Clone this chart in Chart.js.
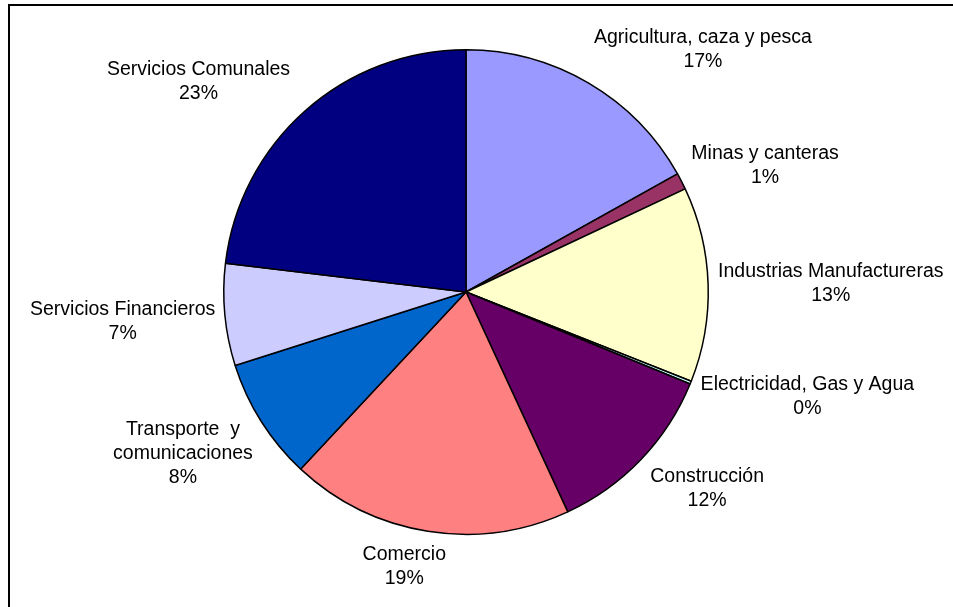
<!DOCTYPE html>
<html>
<head>
<meta charset="utf-8">
<script src="https://cdn.jsdelivr.net/npm/chart.js@4.4.1/dist/chart.umd.min.js"></script>
<style>
    html, body { margin: 0; padding: 0; background: #fff; }
    #wrap { width: 953px; height: 607px; position: relative; }
</style>
</head>
<body>
<div id="wrap"><canvas id="myChart"></canvas></div>
<script>
// sectors, clockwise from 12 o'clock
var categories = ['Agricultura, caza y pesca', 'Minas y canteras', 'Industrias Manufactureras',
    'Electricidad, Gas y Agua', 'Construcción', 'Comercio', 'Transporte  y\ncomunicaciones',
    'Servicios Financieros', 'Servicios Comunales'];
var shares = [16.9, 1.1, 13.0, 0.2, 11.9, 18.85, 8.15, 6.8, 23.1];
var colors = ['#9999FF', '#993366', '#FFFFCC', '#CCFFFF', '#660066', '#FF8080', '#0066CC', '#CCCCFF', '#000080'];

// label placement tweaks (px), same order as categories
var labelNudge = [[50, 0], [2, 2], [-8, 0], [1, -1], [12, 2], [-14, -4], [-4, 4], [8, 3], [-34, 0]];
var labelGap = 18;
var lineH = 24;

var outsideLabels = {
    id: 'outsideLabels',
    beforeDraw: function (chart) {
        var ctx = chart.ctx;
        ctx.save();
        ctx.strokeStyle = '#000';
        ctx.lineWidth = 2;
        ctx.strokeRect(9, 5, 2000, 2000);
        ctx.restore();
    },
    afterDatasetsDraw: function (chart) {
        var ctx = chart.ctx;
        var meta = chart.getDatasetMeta(0);
        var total = shares.reduce(function (a, b) { return a + b; }, 0);
        ctx.save();
        ctx.font = '19.5px "Liberation Sans", Arial, sans-serif';
        ctx.fillStyle = '#000';
        ctx.textAlign = 'center';
        ctx.textBaseline = 'alphabetic';
        meta.data.forEach(function (arc, i) {
            var p = arc.getProps(['x', 'y', 'startAngle', 'endAngle', 'outerRadius'], true);
            var mid = (p.startAngle + p.endAngle) / 2;
            var sx = Math.cos(mid), sy = Math.sin(mid);
            var lines = categories[i].split('\n');
            lines.push(Math.round(shares[i] / total * 100) + '%');
            var w = 0;
            lines.forEach(function (t) { w = Math.max(w, ctx.measureText(t).width); });
            var h = lines.length * lineH - 5;
            var cx = p.x + (p.outerRadius + labelGap) * sx + sx * w / 2 + labelNudge[i][0];
            var cy = p.y + (p.outerRadius + labelGap) * sy + sy * h / 2 + labelNudge[i][1];
            lines.forEach(function (t, k) {
                ctx.fillText(t, cx, cy + 5.5 + (k - (lines.length - 1) / 2) * lineH);
            });
        });
        ctx.restore();
    }
};

var chart = new Chart(document.getElementById('myChart'), {
    type: 'pie',
    data: {
        labels: categories,
        datasets: [{
            data: shares,
            backgroundColor: colors,
            borderColor: '#000',
            borderWidth: 1.5
        }]
    },
    options: {
        responsive: true,
        maintainAspectRatio: false,
        animation: false,
        events: [],
        layout: { padding: { left: 223, right: 244, top: 49, bottom: 72 } },
        plugins: {
            legend: { display: false },
            tooltip: { enabled: false }
        }
    },
    plugins: [outsideLabels]
});
</script>
</body>
</html>
